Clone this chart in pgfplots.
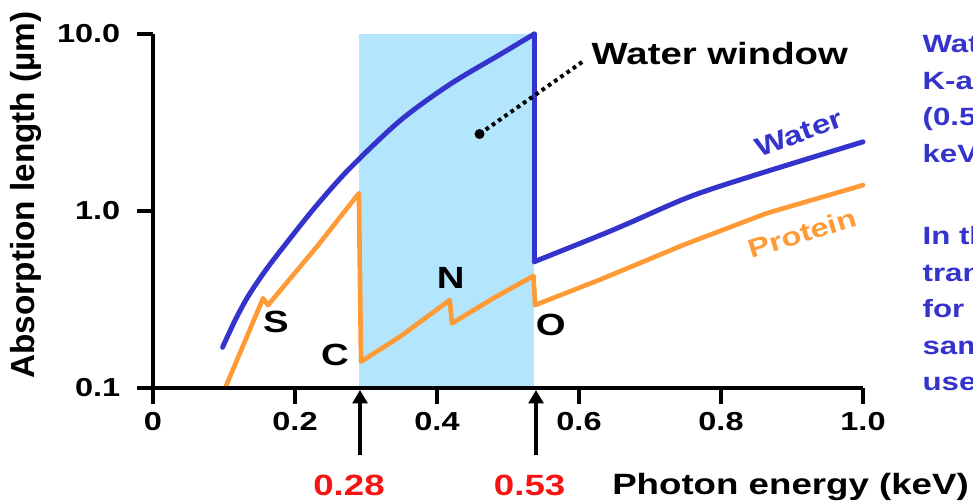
\documentclass[border=0pt]{standalone}
\usepackage{fontspec}
\setmainfont{Liberation Sans}[FakeStretch=1.25]
\newfontfamily\ylabfont{Liberation Sans}
\usepackage{pgfplots}
\pgfplotsset{compat=1.18}
\usetikzlibrary{arrows.meta}
\definecolor{wblue}{RGB}{52,52,204}
\definecolor{porange}{RGB}{255,155,55}
\definecolor{windowblue}{RGB}{179,229,252}
\definecolor{redlab}{RGB}{245,20,20}
\begin{document}
\begin{tikzpicture}
\useasboundingbox (-114.75pt,-85.5pt) rectangle (615pt,291pt);
\begin{axis}[
  at={(0,0)}, anchor=south west, scale only axis,
  width=532.5pt, height=265.5pt,
  xmin=0, xmax=1, ymode=log, ymin=0.1, ymax=10,
  axis x line*=bottom, axis y line*=left,
  axis line style={line width=3pt},
  axis on top, clip=false,
  xtick={0,0.2,0.4,0.6,0.8,1.0},
  xticklabels={0,0.2,0.4,0.6,0.8,1.0},
  ytick={0.1,1,10}, yticklabels={0.1,1.0,10.0},
  yminorticks=false, xminorticks=false,
  xtick pos=bottom, ytick pos=left,
  tick align=outside, major tick length=12pt,
  every tick/.style={line width=3pt, black},
  xtick style={draw=none},
  ticklabel style={font=\bfseries\fontsize{19.5}{22}\selectfont},
  xticklabel style={yshift=-3pt},
  yticklabel style={xshift=-9pt},
  /pgf/number format/assume math mode=true,
]
\fill[windowblue] (axis cs:0.29,0.1) rectangle (axis cs:0.537,10);
% Water
\addplot[wblue, line width=3.75pt, smooth, line cap=round, line join=round] coordinates {
 (0.098,0.17) (0.116,0.243) (0.134,0.33) (0.157,0.453) (0.181,0.607) (0.228,1.047)
 (0.277,1.74) (0.348,3.24) (0.418,5.19) (0.489,7.67) (0.537,10.0)};
\addplot[wblue, line width=3.75pt, line cap=round, line join=round] coordinates {
 (0.537,10.0) (0.537,0.517)};
\addplot[wblue, line width=3.75pt, smooth, line cap=round, line join=round] coordinates {
 (0.537,0.517) (0.63,0.73) (0.672,0.86) (0.755,1.20) (0.840,1.56) (1.0,2.46)};
% Protein
\addplot[porange, line width=3.5pt, line cap=round, line join=round] coordinates {
 (0.103,0.103) (0.155,0.321) (0.162,0.294) (0.231,0.63) (0.290,1.26)
 (0.293,0.141) (0.348,0.195) (0.418,0.314) (0.421,0.232) (0.479,0.321)
 (0.536,0.43) (0.538,0.294) (0.63,0.41) (0.747,0.643) (0.864,0.97) (1.0,1.40)};
\end{axis}
% x tick marks (axis box 532.5pt wide, x from 0 to 1)
\fill[black] (-1.5pt,0pt) rectangle (1.5pt,-12pt);
\fill[black] (105pt,0pt) rectangle (108pt,-12pt);
\fill[black] (211.5pt,0pt) rectangle (214.5pt,-12pt);
\fill[black] (318pt,0pt) rectangle (321pt,-12pt);
\fill[black] (424.5pt,0pt) rectangle (427.5pt,-12pt);
\fill[black] (531pt,0pt) rectangle (534pt,-12pt);
% annotations (pt coordinates, 1px = 0.75pt, origin at axis lower-left)
\node[font=\bfseries\fontsize{23}{26}\selectfont] at (92.25pt,49.7pt) {S};
\node[font=\bfseries\fontsize{23}{26}\selectfont] at (136.5pt,24.75pt) {C};
\node[font=\bfseries\fontsize{23}{26}\selectfont] at (223.3pt,82.3pt) {N};
\node[font=\bfseries\fontsize{23}{26}\selectfont] at (298.3pt,47.25pt) {O};
\node[wblue, rotate=20, font=\bfseries\fontsize{20}{24}\selectfont] at (484.5pt,191pt) {Water};
\node[porange, rotate=17, font=\bfseries\fontsize{19.5}{24}\selectfont] at (487pt,116pt) {Protein};
\fill (244.9pt,190.5pt) circle (3.75pt);
\draw[line width=3pt, dash pattern=on 2.8pt off 2.9pt] (244.9pt,190.5pt) -- (324pt,246pt);
\node[anchor=base west, inner sep=0pt, font=\bfseries\fontsize{23}{26}\selectfont] at (328.8pt,242.25pt) {Water window};
% arrows and edge labels
\draw[line width=3pt, -{Triangle[length=10pt,width=11pt]}] (155.25pt,-50pt) -- (155.25pt,-1.5pt);
\draw[line width=3pt, -{Triangle[length=10pt,width=11pt]}] (287.25pt,-50pt) -- (287.25pt,-1.5pt);
\node[redlab, anchor=base, inner sep=0pt, font=\bfseries\fontsize{22}{26}\selectfont] at (147pt,-81pt) {0.28};
\node[redlab, anchor=base, inner sep=0pt, font=\bfseries\fontsize{22}{26}\selectfont] at (282.5pt,-81pt) {0.53};
\node[anchor=base west, inner sep=0pt, font=\bfseries\fontsize{22}{26}\selectfont] at (344.25pt,-79.5pt) {Photon energy (keV)};
\node[rotate=90, inner sep=0pt, font=\ylabfont\bfseries\fontsize{25}{28}\selectfont] at (-95.25pt,144.75pt) {Absorption length (\textmu m)};
% right-hand text, cut by the page edge
\begin{scope}
\clip (-114.75pt,-85.5pt) rectangle (615pt,291pt);
\begin{scope}[every node/.style={anchor=base west, inner sep=0pt, text=wblue, font=\bfseries\fontsize{18.75}{22}\selectfont}]
\node at (577pt,251.25pt) {Water has};
\node at (577pt,223.9pt) {K-absorption};
\node at (577pt,196.5pt) {(0.53};
\node at (577pt,169.1pt) {keV) edge};
\node at (577pt,107.25pt) {In this};
\node at (577pt,79.9pt) {transmission};
\node at (577pt,52.5pt) {for thick};
\node at (577pt,25.1pt) {samples};
\node at (577pt,-2.25pt) {used};
\end{scope}
\end{scope}
\end{tikzpicture}
\end{document}
